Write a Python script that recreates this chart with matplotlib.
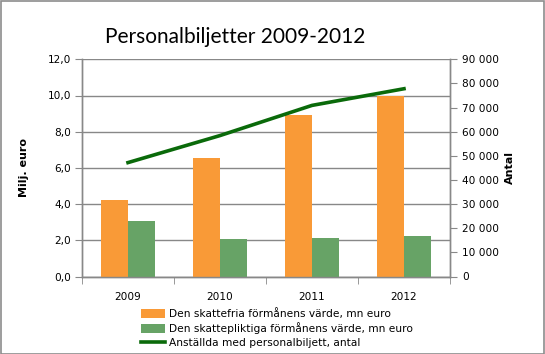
import numpy as np
import matplotlib.pyplot as plt
from matplotlib.ticker import FuncFormatter, MultipleLocator

# Data
years = ["2009", "2010", "2011", "2012"]
skattefria = [4.25, 6.57, 8.90, 9.98]
skattepliktiga = [3.05, 2.05, 2.10, 2.22]
anstallda = [47200, 58400, 70900, 77800]

orange = "#F99A37"
green = "#67A366"
linje = "#0A6A0A"
grid_col = "#888888"

fig = plt.figure(figsize=(5.45, 3.54), dpi=100)
fig.patches.append(plt.Rectangle((0.001, 0.001), 0.997, 0.996, transform=fig.transFigure,
                                 fill=False, edgecolor="#8c8c8c", linewidth=1.2))

ax = fig.add_axes([82 / 545, 1 - 276.5 / 354, (450 - 82) / 545, (276.5 - 59.3) / 354])
ax2 = ax.twinx()

x = np.arange(len(years))
w = 0.29
ax.bar(x - w / 2, skattefria, w, color=orange, zorder=3,
       label="Den skattefria förmånens värde, mn euro")
ax.bar(x + w / 2, skattepliktiga, w, color=green, zorder=3,
       label="Den skattepliktiga förmånens värde, mn euro")
ax2.plot(x, anstallda, color=linje, linewidth=2.6,
         label="Anställda med personalbiljett, antal")

ax.set_xlim(-0.5, 3.5)
ax.set_ylim(0, 12)
ax2.set_ylim(0, 90000)
ax.yaxis.set_major_locator(MultipleLocator(2))
ax2.yaxis.set_major_locator(MultipleLocator(10000))
ax.yaxis.set_major_formatter(FuncFormatter(lambda v, p: f"{v:.1f}".replace(".", ",")))
ax2.yaxis.set_major_formatter(FuncFormatter(lambda v, p: f"{int(v):,}".replace(",", " ")))

ax.grid(axis="y", color=grid_col, linewidth=1, zorder=0)
ax.set_axisbelow(True)

ax.set_xticks(x)
ax.set_xticklabels(years)
ax.set_xticks(np.arange(-0.5, 4, 1), minor=True)
ax.tick_params(axis="x", which="major", length=0, pad=11)
ax.tick_params(axis="x", which="minor", length=5, color=grid_col, direction="out")
ax.tick_params(axis="y", length=5, color=grid_col, direction="out", pad=3)
ax2.tick_params(axis="y", length=5, color=grid_col, direction="out", pad=4)

for a in (ax, ax2):
    a.spines["top"].set_visible(False)
    for s in ("left", "right", "bottom"):
        a.spines[s].set_color(grid_col)
        a.spines[s].set_linewidth(1)
    a.tick_params(labelsize=7.6)

ax.set_ylabel("Milj. euro", fontsize=8, fontweight="bold", labelpad=13)
ax2.set_ylabel("Antal", fontsize=8, fontweight="bold", rotation=90, labelpad=4)

fig.text(235 / 545, 1 - 37 / 354, "Personalbiljetter 2009-2012", fontsize=15,
         family="Lato", ha="center", va="center")

h1, l1 = ax.get_legend_handles_labels()
h2, l2 = ax2.get_legend_handles_labels()
fig.legend(h1 + h2, l1 + l2, loc="upper left", bbox_to_anchor=(137 / 545, 1 - 304 / 354),
           frameon=False, fontsize=7.7, handlelength=2.2, handleheight=0.9,
           handletextpad=0.4, labelspacing=0.3, borderaxespad=0)

fig.savefig("out.png", dpi=100)
